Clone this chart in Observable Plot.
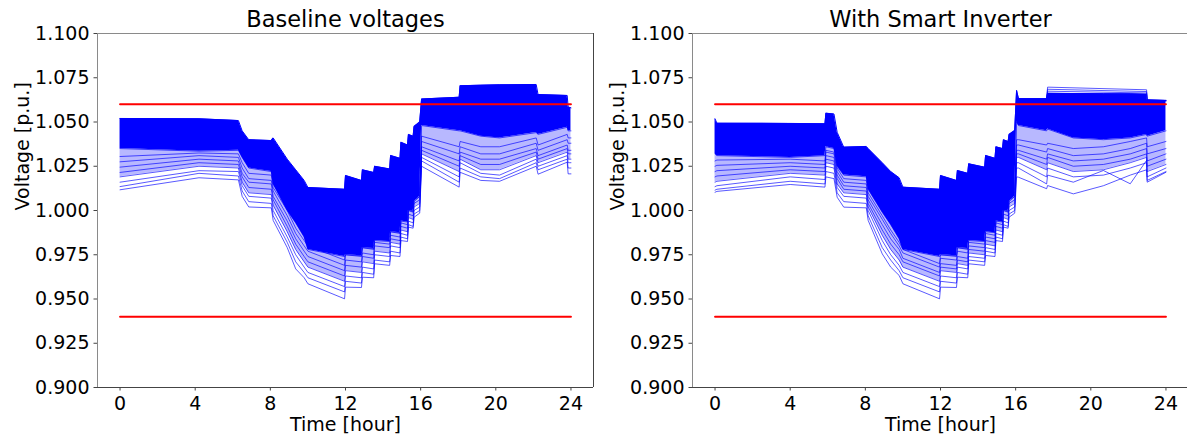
<!DOCTYPE html>
<html><head><meta charset="utf-8">
<script src="https://cdn.jsdelivr.net/npm/d3@7"></script>
<script src="https://cdn.jsdelivr.net/npm/@observablehq/plot@0.6"></script>
<style>
html,body{margin:0;padding:0;background:#fff;overflow:hidden;width:1187px;height:441px;}
#wrap{position:relative;width:1187px;height:441px;overflow:hidden;background:#fff;}
.panel{position:absolute;top:0;}
</style></head><body><div id="wrap"></div>
<script>
// ---------- tick labels & limits ----------
const xTicks = [0, 4, 8, 12, 16, 20, 24];
const yTicks = [0.900, 0.925, 0.950, 0.975, 1.000, 1.025, 1.050, 1.075, 1.100];
const limitLevels = [1.06, 0.94];
const limitSpan = [0, 24];
const titles = ["Baseline voltages", "With Smart Inverter"];
const xLabel = "Time [hour]";
const yLabel = "Voltage [p.u.]";

// ---------- Baseline panel ----------
const baseHours = [0, 4.2, 6.3, 6.5, 6.85, 8.05, 8.15, 8.9, 9.35, 9.8, 10.0, 11.95, 12.0, 12.85, 12.9, 13.5, 13.55, 14.35, 14.4, 14.9, 14.95, 15.3, 15.35, 15.6, 15.65, 15.95, 16.05, 18.05, 18.1, 19.2, 20.2, 22.15, 22.25, 23.8, 23.85, 24.0];
// upper edge of the bundle of bus voltages
const baseTop = [1.0520, 1.0518, 1.0508, 1.0450, 1.0400, 1.0395, 1.0410, 1.0290, 1.0230, 1.0170, 1.0130, 1.0120, 1.0198, 1.0170, 1.0230, 1.0215, 1.0250, 1.0235, 1.0311, 1.0295, 1.0386, 1.0370, 1.0430, 1.0420, 1.0475, 1.0500, 1.0630, 1.0640, 1.0705, 1.0708, 1.0710, 1.0712, 1.0655, 1.0650, 1.0585, 1.0580];
// lower edge of the solid (densely overlapping) part of the bundle
const baseDense = [1.0350, 1.0335, 1.0340, 1.0300, 1.0240, 1.0220, 1.0150, 1.0000, 0.9930, 0.9850, 0.9780, 0.9740, 0.9750, 0.9745, 0.9790, 0.9785, 0.9830, 0.9825, 0.9880, 0.9875, 0.9940, 0.9935, 1.0000, 0.9995, 1.0050, 1.0080, 1.0480, 1.0450, 1.0450, 1.0420, 1.0410, 1.0440, 1.0430, 1.0470, 1.0450, 1.0450];
// individual low-voltage buses (one row per time in baseHours, lowest bus first)
const baseBuses = [
  [1.0117, 1.0135, 1.0160, 1.0190, 1.0215, 1.0245, 1.0275, 1.0305],
  [1.0185, 1.0210, 1.0225, 1.0250, 1.0270, 1.0290, 1.0310, 1.0325],
  [1.0173, 1.0195, 1.0220, 1.0240, 1.0260, 1.0280, 1.0300, 1.0320],
  [1.0080, 1.0110, 1.0140, 1.0160, 1.0190, 1.0210, 1.0240, 1.0270],
  [1.0020, 1.0050, 1.0080, 1.0100, 1.0130, 1.0160, 1.0180, 1.0210],
  [1.0015, 1.0040, 1.0070, 1.0090, 1.0120, 1.0150, 1.0170, 1.0200],
  [0.9944, 0.9970, 1.0000, 1.0030, 1.0060, 1.0080, 1.0110, 1.0130],
  [0.9790, 0.9820, 0.9850, 0.9880, 0.9910, 0.9940, 0.9970, 1.0000],
  [0.9670, 0.9710, 0.9750, 0.9780, 0.9810, 0.9840, 0.9870, 0.9900],
  [0.9620, 0.9650, 0.9680, 0.9710, 0.9740, 0.9770, 0.9800, 0.9830],
  [0.9586, 0.9620, 0.9650, 0.9680, 0.9710, 0.9740, 0.9770, 0.9800],
  [0.9501, 0.9540, 0.9570, 0.9600, 0.9630, 0.9660, 0.9690, 0.9720],
  [0.9567, 0.9600, 0.9630, 0.9660, 0.9690, 0.9720, 0.9750, 0.9770],
  [0.9565, 0.9590, 0.9620, 0.9650, 0.9680, 0.9710, 0.9740, 0.9760],
  [0.9623, 0.9650, 0.9680, 0.9710, 0.9740, 0.9760, 0.9790, 0.9810],
  [0.9620, 0.9640, 0.9670, 0.9700, 0.9730, 0.9750, 0.9780, 0.9800],
  [0.9699, 0.9720, 0.9750, 0.9770, 0.9800, 0.9820, 0.9840, 0.9860],
  [0.9690, 0.9710, 0.9740, 0.9760, 0.9790, 0.9810, 0.9830, 0.9850],
  [0.9746, 0.9770, 0.9800, 0.9820, 0.9840, 0.9860, 0.9880, 0.9900],
  [0.9740, 0.9760, 0.9790, 0.9810, 0.9830, 0.9850, 0.9870, 0.9890],
  [0.9830, 0.9850, 0.9870, 0.9890, 0.9910, 0.9930, 0.9950, 0.9970],
  [0.9825, 0.9840, 0.9860, 0.9880, 0.9900, 0.9920, 0.9940, 0.9960],
  [0.9906, 0.9920, 0.9940, 0.9960, 0.9980, 1.0000, 1.0020, 1.0040],
  [0.9900, 0.9910, 0.9930, 0.9950, 0.9970, 0.9990, 1.0010, 1.0030],
  [0.9962, 0.9980, 1.0000, 1.0020, 1.0040, 1.0060, 1.0080, 1.0100],
  [0.9985, 1.0000, 1.0020, 1.0040, 1.0060, 1.0080, 1.0100, 1.0120],
  [1.0250, 1.0280, 1.0300, 1.0320, 1.0340, 1.0360, 1.0390, 1.0420],
  [1.0132, 1.0160, 1.0190, 1.0220, 1.0250, 1.0280, 1.0320, 1.0360],
  [1.0216, 1.0240, 1.0270, 1.0290, 1.0310, 1.0330, 1.0360, 1.0390],
  [1.0170, 1.0190, 1.0210, 1.0230, 1.0260, 1.0290, 1.0320, 1.0360],
  [1.0165, 1.0180, 1.0200, 1.0230, 1.0260, 1.0290, 1.0320, 1.0360],
  [1.0250, 1.0270, 1.0290, 1.0310, 1.0330, 1.0350, 1.0380, 1.0410],
  [1.0205, 1.0230, 1.0250, 1.0270, 1.0290, 1.0310, 1.0340, 1.0370],
  [1.0273, 1.0290, 1.0310, 1.0330, 1.0350, 1.0370, 1.0400, 1.0430],
  [1.0207, 1.0240, 1.0270, 1.0290, 1.0320, 1.0340, 1.0380, 1.0410],
  [1.0207, 1.0240, 1.0270, 1.0290, 1.0320, 1.0340, 1.0380, 1.0410]
];

// ---------- Smart inverter panel ----------
const smartHours = [0, 0.1, 4.0, 5.85, 5.9, 6.33, 6.5, 6.85, 8.05, 8.15, 8.9, 9.35, 9.8, 10.0, 11.95, 12.0, 12.85, 12.9, 13.45, 13.5, 14.35, 14.4, 14.9, 14.95, 15.3, 15.35, 15.6, 15.65, 15.95, 16.05, 16.15, 17.65, 17.7, 19.07, 20.67, 22.1, 22.97, 23.0, 24.0];
const smartTop = [1.0518, 1.0493, 1.0492, 1.0490, 1.0550, 1.0545, 1.0442, 1.0358, 1.0362, 1.0350, 1.0270, 1.0220, 1.0185, 1.0132, 1.0120, 1.0198, 1.0170, 1.0226, 1.0210, 1.0264, 1.0245, 1.0311, 1.0295, 1.0360, 1.0350, 1.0400, 1.0390, 1.0430, 1.0452, 1.0678, 1.0631, 1.0631, 1.0662, 1.0661, 1.0660, 1.0659, 1.0657, 1.0625, 1.0622];
const smartDense = [1.0320, 1.0310, 1.0300, 1.0310, 1.0360, 1.0350, 1.0250, 1.0200, 1.0190, 1.0120, 0.9990, 0.9920, 0.9840, 0.9780, 0.9740, 0.9750, 0.9745, 0.9790, 0.9785, 0.9830, 0.9825, 0.9880, 0.9875, 0.9940, 0.9935, 1.0000, 0.9995, 1.0050, 1.0080, 1.0500, 1.0480, 1.0450, 1.0460, 1.0410, 1.0400, 1.0410, 1.0430, 1.0420, 1.0450];
const smartBuses = [
  [1.0103, 1.0115, 1.0135, 1.0160, 1.0190, 1.0220, 1.0250, 1.0280],
  [1.0108, 1.0120, 1.0140, 1.0165, 1.0195, 1.0225, 1.0255, 1.0285],
  [1.0147, 1.0165, 1.0190, 1.0210, 1.0230, 1.0250, 1.0270, 1.0290],
  [1.0132, 1.0150, 1.0175, 1.0200, 1.0220, 1.0240, 1.0260, 1.0280],
  [1.0190, 1.0220, 1.0250, 1.0270, 1.0290, 1.0310, 1.0330, 1.0340],
  [1.0180, 1.0210, 1.0240, 1.0260, 1.0280, 1.0300, 1.0320, 1.0330],
  [1.0075, 1.0100, 1.0130, 1.0150, 1.0180, 1.0200, 1.0220, 1.0240],
  [1.0019, 1.0050, 1.0080, 1.0100, 1.0120, 1.0140, 1.0160, 1.0180],
  [1.0015, 1.0040, 1.0070, 1.0090, 1.0110, 1.0130, 1.0150, 1.0170],
  [0.9944, 0.9970, 1.0000, 1.0020, 1.0040, 1.0060, 1.0080, 1.0100],
  [0.9755, 0.9790, 0.9830, 0.9860, 0.9890, 0.9920, 0.9950, 0.9970],
  [0.9680, 0.9720, 0.9750, 0.9780, 0.9810, 0.9840, 0.9870, 0.9890],
  [0.9633, 0.9660, 0.9690, 0.9720, 0.9750, 0.9780, 0.9800, 0.9820],
  [0.9586, 0.9620, 0.9650, 0.9680, 0.9710, 0.9730, 0.9760, 0.9780],
  [0.9501, 0.9540, 0.9570, 0.9600, 0.9630, 0.9650, 0.9680, 0.9700],
  [0.9567, 0.9600, 0.9630, 0.9660, 0.9680, 0.9700, 0.9730, 0.9750],
  [0.9565, 0.9590, 0.9620, 0.9650, 0.9670, 0.9690, 0.9720, 0.9740],
  [0.9623, 0.9650, 0.9680, 0.9700, 0.9720, 0.9740, 0.9770, 0.9790],
  [0.9620, 0.9640, 0.9670, 0.9690, 0.9710, 0.9730, 0.9760, 0.9780],
  [0.9699, 0.9720, 0.9740, 0.9760, 0.9780, 0.9800, 0.9820, 0.9840],
  [0.9690, 0.9710, 0.9730, 0.9750, 0.9770, 0.9790, 0.9810, 0.9830],
  [0.9746, 0.9770, 0.9790, 0.9810, 0.9830, 0.9850, 0.9870, 0.9890],
  [0.9740, 0.9760, 0.9780, 0.9800, 0.9820, 0.9840, 0.9860, 0.9880],
  [0.9830, 0.9850, 0.9870, 0.9890, 0.9910, 0.9930, 0.9950, 0.9970],
  [0.9825, 0.9840, 0.9860, 0.9880, 0.9900, 0.9920, 0.9940, 0.9960],
  [0.9906, 0.9920, 0.9940, 0.9960, 0.9980, 1.0000, 1.0020, 1.0040],
  [0.9900, 0.9910, 0.9930, 0.9950, 0.9970, 0.9990, 1.0010, 1.0030],
  [0.9962, 0.9980, 1.0000, 1.0020, 1.0040, 1.0060, 1.0080, 1.0100],
  [0.9985, 1.0000, 1.0020, 1.0040, 1.0060, 1.0080, 1.0100, 1.0120],
  [1.0190, 1.0240, 1.0270, 1.0300, 1.0320, 1.0340, 1.0370, 1.0400],
  [1.0188, 1.0240, 1.0270, 1.0300, 1.0320, 1.0340, 1.0370, 1.0400],
  [1.0123, 1.0150, 1.0190, 1.0230, 1.0260, 1.0290, 1.0330, 1.0370],
  [1.0141, 1.0200, 1.0240, 1.0270, 1.0300, 1.0320, 1.0350, 1.0380],
  [1.0094, 1.0160, 1.0190, 1.0220, 1.0250, 1.0280, 1.0310, 1.0350],
  [1.0140, 1.0226, 1.0200, 1.0230, 1.0260, 1.0290, 1.0320, 1.0360],
  [1.0200, 1.0151, 1.0240, 1.0270, 1.0290, 1.0320, 1.0350, 1.0390],
  [1.0230, 1.0283, 1.0270, 1.0300, 1.0320, 1.0350, 1.0380, 1.0410],
  [1.0160, 1.0170, 1.0190, 1.0220, 1.0250, 1.0280, 1.0320, 1.0360],
  [1.0216, 1.0220, 1.0240, 1.0260, 1.0290, 1.0320, 1.0350, 1.0390]
];
// a few buses that rise above the solid band in the evening
const smartPeakHours = [16.05, 16.15, 17.65, 17.7, 22.97, 23.0, 24.0];
const smartPeakA = [1.0678, 1.0632, 1.0632, 1.0697, 1.0682, 1.0625, 1.0622];
const smartPeakB = [1.0665, 1.0630, 1.0630, 1.0685, 1.0672, 1.0622, 1.0620];
const smartPeakC = [1.0655, 1.0628, 1.0628, 1.0674, 1.0664, 1.0620, 1.0618];

// ---------- drawing ----------
const FONT = "DejaVu Sans";
const BLUE = "#0000ff";
const FS = 19;

function busRows(hours, rows) {
  const out = [];
  const n = rows[0].length;
  for (let k = 0; k < n; k++) hours.forEach((h, i) => out.push({bus: k, h, v: rows[i][k]}));
  return out;
}

function makePanel(title, hours, top, dense, rows, peaks) {
  // solid band, plus a lighter band from the 4th-lowest bus up to the solid band
  const band = hours.map((h, i) => ({h, top: top[i], low: dense[i], mid: rows[i][3]}));
  const buses = busRows(hours, rows);
  const peakRows = [];
  peaks.forEach((p, k) => p.hours.forEach((h, i) => peakRows.push({bus: k, h, v: p.values[i]})));
  const limits = [];
  limitLevels.forEach((lv, k) => limitSpan.forEach(h => limits.push({k, h, v: lv})));
  return Plot.plot({
    width: 600, height: 441,
    marginLeft: 97, marginRight: 7, marginTop: 33, marginBottom: 54,
    style: {fontFamily: FONT, fontSize: FS + "px", color: "#000", background: "transparent", overflow: "visible"},
    x: {domain: [-1.2, 25.2]},
    y: {domain: [0.9, 1.1]},
    marks: [
      Plot.areaY(band, {x: "h", y1: "mid", y2: "low", fill: BLUE, fillOpacity: 0.28}),
      Plot.areaY(band, {x: "h", y1: "low", y2: "top", fill: BLUE}),
      Plot.line(band, {x: "h", y: "top", stroke: BLUE, strokeWidth: 1}),
      Plot.line(band, {x: "h", y: "low", stroke: BLUE, strokeWidth: 1, strokeOpacity: 0.7}),
      Plot.line(buses, {x: "h", y: "v", z: "bus", stroke: BLUE, strokeWidth: 1, strokeOpacity: 0.65}),
      Plot.line(peakRows, {x: "h", y: "v", z: "bus", stroke: BLUE, strokeWidth: 1, strokeOpacity: 0.65}),
      Plot.line(limits, {x: "h", y: "v", z: "k", stroke: "#ff0000", strokeWidth: 2}),
      Plot.ruleX([-1.2], {stroke: "#8a8a8a", strokeWidth: 1}),
      Plot.ruleY([1.1], {stroke: "#8a8a8a", strokeWidth: 1}),
      Plot.ruleX([25.2], {stroke: "#444", strokeWidth: 1}),
      Plot.ruleY([0.9], {stroke: "#444", strokeWidth: 1}),
      Plot.axisX(xTicks, {tickSize: 3.5, tickPadding: 5, fontSize: FS, label: null, stroke: "#444"}),
      Plot.axisY(yTicks, {tickSize: 3.5, tickPadding: 4.5, fontSize: FS, label: null, tickFormat: d3.format(".3f"), stroke: "#444"}),
      Plot.text([xLabel], {frameAnchor: "bottom", lineAnchor: "middle", dy: 37, fontSize: FS, fill: "#000"}),
      Plot.text([yLabel], {frameAnchor: "left", lineAnchor: "middle", dx: -75, rotate: -90, fontSize: FS, fill: "#000"}),
      Plot.text([title], {frameAnchor: "top", lineAnchor: "middle", dy: -14, fontSize: 22.5, fill: "#000"})
    ]
  });
}

const wrap = document.getElementById("wrap");
const left = makePanel(titles[0], baseHours, baseTop, baseDense, baseBuses, []);
const right = makePanel(titles[1], smartHours, smartTop, smartDense, smartBuses, [
  {hours: smartPeakHours, values: smartPeakA},
  {hours: smartPeakHours, values: smartPeakB},
  {hours: smartPeakHours, values: smartPeakC}
]);
left.classList.add("panel"); left.style.left = "0px";
right.classList.add("panel"); right.style.left = "595px";
wrap.appendChild(left);
wrap.appendChild(right);
</script>
</body></html>
